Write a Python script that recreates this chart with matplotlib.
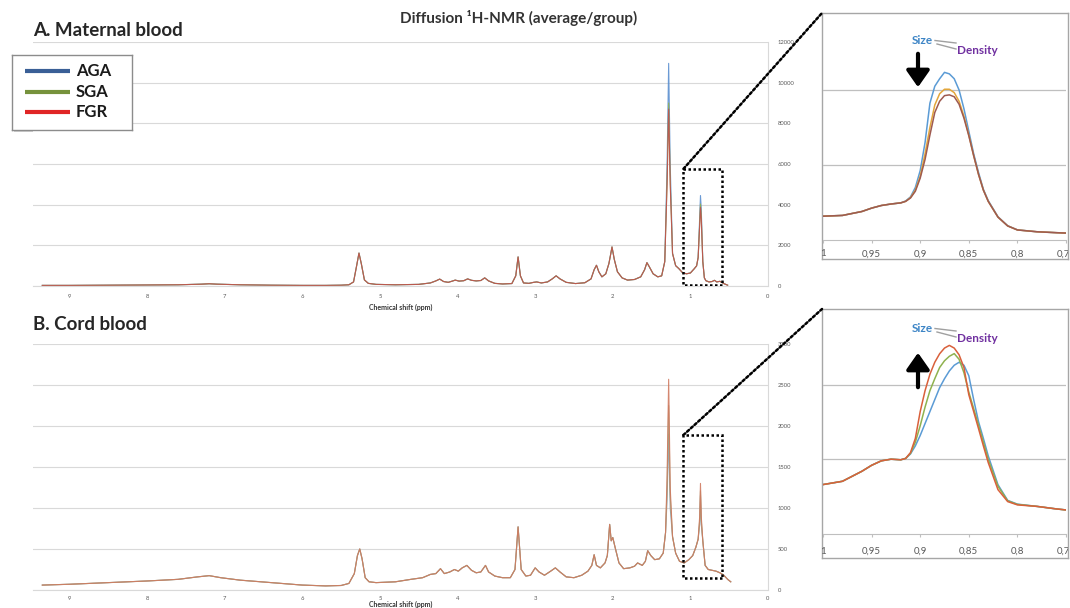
import numpy as np
import matplotlib
matplotlib.use('Agg')
import matplotlib.pyplot as plt
from matplotlib.patches import Rectangle, ConnectionPatch, FancyArrowPatch
from matplotlib.lines import Line2D
import matplotlib.transforms as mtransforms

plt.rcParams['font.family'] = ['Lato', 'DejaVu Sans']

# ---------------- data ----------------
groups = ['AGA', 'SGA', 'FGR']
legend_colors = ['#3a5f96', '#76923c', '#e02525']

x_ticks = [0, 1, 2, 3, 4, 5, 6, 7, 8, 9]
zoom_ticks = [1.0, 0.95, 0.9, 0.85, 0.8, 0.75]
zoom_tick_labels = ['1', '0,95', '0,9', '0,85', '0,8', '0,75']

# Maternal blood full spectrum (common trace, FGR level at the peaks)
maternal_ppm = [9.35, 9.0, 8.5, 8.0, 7.6, 7.3, 7.2, 7.1, 6.8, 6.4, 6.0, 5.7, 5.5, 5.4,
                5.34, 5.30, 5.27, 5.24, 5.20, 5.15, 5.05, 4.8, 4.5, 4.35, 4.28, 4.23,
                4.18, 4.12, 4.06, 4.03, 3.98, 3.92, 3.87, 3.82, 3.76, 3.70, 3.65, 3.60,
                3.52, 3.42, 3.30, 3.25, 3.22, 3.19, 3.15, 3.08, 3.02, 2.98, 2.92, 2.84,
                2.78, 2.73, 2.68, 2.60, 2.48, 2.36, 2.28, 2.24, 2.21, 2.18, 2.14, 2.09,
                2.05, 2.03, 2.01, 1.98, 1.94, 1.88, 1.81, 1.72, 1.64, 1.59, 1.56, 1.53,
                1.48, 1.42, 1.37, 1.33, 1.30, 1.28, 1.26, 1.23, 1.19, 1.15, 1.10, 1.05,
                1.00, 0.95, 0.92, 0.90, 0.88, 0.87, 0.86, 0.84, 0.82, 0.80, 0.76, 0.72,
                0.69, 0.66, 0.62, 0.57, 0.52]
maternal_common = [30, 30, 40, 50, 60, 90, 110, 90, 60, 40, 30, 30, 40, 60,
                   200, 1000, 1620, 1100, 300, 130, 80, 60, 80, 150, 250, 340,
                   220, 180, 250, 290, 240, 260, 350, 280, 250, 270, 400, 250,
                   130, 100, 120, 500, 1430, 500, 150, 130, 180, 200, 150, 200,
                   350, 500, 350, 180, 120, 160, 350, 800, 1020, 700, 450, 600,
                   1100, 1500, 1920, 1300, 700, 400, 290, 320, 450, 800, 1150, 950,
                   600, 450, 500, 1200, 5000, 8700, 5000, 1600, 1000, 860, 650, 600,
                   640, 850, 990, 1400, 3000, 3870, 3300, 1200, 400, 260, 200, 220,
                   280, 200, 230, 120, 40]
maternal_peak_ppm = [1.30, 1.28, 1.26, 0.88, 0.87, 0.86]
maternal_peak_aga = [6000, 10950, 6000, 3400, 4450, 3800]
maternal_peak_sga = [5200, 9000, 5200, 3100, 4030, 3450]
maternal_peak_fgr = [5000, 8700, 5000, 3000, 3870, 3300]

# Cord blood full spectrum
cord_ppm = [9.35, 9.0, 8.5, 8.0, 7.6, 7.35, 7.2, 7.05, 6.8, 6.4, 6.0, 5.7, 5.5, 5.4,
            5.33, 5.29, 5.26, 5.23, 5.19, 5.14, 5.05, 4.8, 4.6, 4.45, 4.35, 4.28,
            4.22, 4.17, 4.10, 4.04, 3.99, 3.94, 3.88, 3.82, 3.76, 3.70, 3.64, 3.60,
            3.52, 3.42, 3.32, 3.26, 3.22, 3.18, 3.12, 3.06, 3.00, 2.95, 2.88, 2.80,
            2.74, 2.68, 2.60, 2.50, 2.40, 2.32, 2.27, 2.24, 2.21, 2.16, 2.10, 2.07,
            2.04, 2.02, 2.00, 1.97, 1.92, 1.86, 1.78, 1.72, 1.68, 1.62, 1.58, 1.55,
            1.51, 1.46, 1.40, 1.35, 1.32, 1.30, 1.28, 1.26, 1.23, 1.19, 1.14, 1.08,
            1.02, 0.97, 0.93, 0.90, 0.88, 0.87, 0.86, 0.84, 0.81, 0.77, 0.72, 0.67,
            0.62, 0.57, 0.52, 0.48]
cord_common = [60, 70, 90, 110, 130, 160, 175, 150, 120, 90, 60, 50, 55, 80,
               200, 420, 500, 380, 150, 100, 90, 100, 130, 150, 190, 200,
               260, 200, 220, 250, 230, 270, 300, 240, 210, 220, 300, 220,
               170, 150, 150, 250, 770, 250, 170, 180, 270, 220, 180, 230,
               270, 220, 160, 150, 180, 230, 300, 430, 300, 270, 330, 420,
               800, 600, 640, 520, 330, 260, 270, 290, 330, 300, 350, 480,
               420, 370, 380, 450, 700, 1400, 2570, 1250, 650, 450, 350, 330,
               370, 420, 520, 620, 900, 1300, 900, 600, 300, 250, 240, 230,
               210, 180, 130, 100]
cord_peak_ppm = [1.30, 1.28, 1.26, 0.88, 0.87, 0.86]
cord_peak_aga = [1100, 1900, 1000, 800, 1150, 800]
cord_peak_sga = [1250, 2250, 1150, 850, 1210, 850]
cord_peak_fgr = [1400, 2570, 1250, 900, 1300, 900]

# Zoomed region 1.0 - 0.75 ppm
zoom_ppm = [1.00, 0.98, 0.96, 0.95, 0.94, 0.93, 0.92, 0.915, 0.91, 0.905, 0.90, 0.895,
            0.89, 0.885, 0.88, 0.875, 0.87, 0.865, 0.86, 0.855, 0.85, 0.845, 0.84,
            0.835, 0.83, 0.82, 0.81, 0.80, 0.78, 0.76, 0.75]
maternal_zoom_aga = [635, 655, 760, 850, 920, 960, 990, 1040, 1150, 1400, 1850, 2600,
                     3650, 4100, 4300, 4470, 4430, 4300, 4000, 3500, 2900, 2300, 1800,
                     1350, 1050, 620, 380, 270, 220, 195, 185]
maternal_zoom_sga = [635, 655, 760, 850, 920, 960, 990, 1030, 1130, 1330, 1700, 2300,
                     3000, 3600, 3900, 4020, 4020, 3930, 3700, 3300, 2800, 2250, 1750,
                     1330, 1030, 610, 375, 268, 220, 195, 185]
maternal_zoom_fgr = [635, 655, 760, 850, 920, 960, 990, 1030, 1120, 1300, 1650, 2150,
                     2800, 3400, 3700, 3850, 3870, 3820, 3620, 3250, 2780, 2250, 1750,
                     1330, 1030, 610, 375, 268, 220, 195, 185]
cord_zoom_aga = [331, 353, 420, 460, 490, 501, 497, 506, 536, 590, 660, 740,
                 820, 900, 980, 1040, 1092, 1130, 1150, 1130, 1060, 900, 752,
                 640, 523, 330, 225, 200, 185, 168, 161]
cord_zoom_sga = [331, 353, 420, 460, 490, 501, 497, 506, 540, 615, 725, 850,
                 960, 1040, 1115, 1160, 1190, 1208, 1170, 1080, 950, 840, 730,
                 615, 500, 320, 222, 198, 185, 168, 161]
cord_zoom_fgr = [331, 353, 420, 460, 490, 501, 497, 506, 545, 640, 820, 960,
                 1070, 1150, 1207, 1245, 1263, 1245, 1200, 1115, 933, 820, 706,
                 590, 478, 297, 217, 195, 185, 168, 161]

# ---------------- layout helpers ----------------
W, H = 1070, 608


def box(l, t, r, b):
    return [l / W, 1 - b / H, (r - l) / W, (b - t) / H]


def fp(x, y):
    return (x / W, 1 - y / H)


def build(ppm, common, peak_ppm, peak_vals):
    d = dict(zip(peak_ppm, peak_vals))
    return [d.get(p, v) for p, v in zip(ppm, common)]


fig = plt.figure(figsize=(10.7, 6.08), dpi=100)
fig.patch.set_facecolor('white')

GRID = '#d9d9d9'


def main_panel(rect, ppm, series, colors, ymax, ystep, xpad, lpad):
    ax = fig.add_axes(box(*rect))
    for vals, c in zip(series, colors):
        ax.plot(ppm, vals, color=c, lw=0.8, alpha=0.9)
    ax.set_xlim(9.47, 0)
    ax.set_ylim(0, ymax)
    ax.set_xticks(x_ticks)
    ax.set_yticks(np.arange(0, ymax + 1, ystep))
    ax.yaxis.tick_right()
    ax.tick_params(axis='both', length=0, labelsize=4.2, labelcolor='#595959')
    ax.tick_params(axis='y', pad=7)
    ax.tick_params(axis='x', pad=xpad)
    ax.grid(axis='y', color=GRID, lw=0.8)
    ax.set_axisbelow(True)
    for s in ['top', 'left']:
        ax.spines[s].set_visible(False)
    for s in ['right', 'bottom']:
        ax.spines[s].set_color(GRID)
        ax.spines[s].set_linewidth(0.8)
    ax.set_xlabel('Chemical shift (ppm)', fontsize=5, fontweight='bold',
                  color='#333333', labelpad=lpad)
    return ax


def inset(frame_rect, plot_rect, series, colors, ymax, ystep, label_y):
    fr = fig.add_axes(box(*frame_rect))
    fr.set_xticks([])
    fr.set_yticks([])
    for s in fr.spines.values():
        s.set_color('#a6a6a6')
        s.set_linewidth(1.0)
    ax = fig.add_axes(box(*plot_rect))
    ax.patch.set_alpha(0)
    for vals, c in zip(series, colors):
        ax.plot(zoom_ppm, vals, color=c, lw=1.1)
    ax.set_xlim(1.0, 0.75)
    ax.set_ylim(0, ymax)
    ax.set_yticks([ystep, 2 * ystep])
    ax.set_yticklabels([])
    ax.tick_params(axis='y', length=0)
    ax.set_xticks(zoom_ticks)
    ax.set_xticklabels([])
    ax.tick_params(axis='x', length=2, color='#bfbfbf', direction='out')
    ax.grid(axis='y', color='#bfbfbf', lw=0.9)
    for s in ['top', 'left', 'right']:
        ax.spines[s].set_visible(False)
    ax.spines['bottom'].set_color('#bfbfbf')
    fl, ft, frr, fb = frame_rect
    yfrac = (fb - label_y) / (fb - ft)
    trans = mtransforms.blended_transform_factory(ax.transData, fr.transAxes)
    for v, s in zip(zoom_ticks, zoom_tick_labels):
        fr.text(v, yfrac, s, transform=trans, ha='center', va='center',
                fontsize=7, color='#595959', clip_on=True)
    return fr, ax


main_colors_A = ['#5b8fd0', '#8fb050', '#c0504d']
main_colors_B = ['#8f9fb0', '#a0a878', '#d07a60']

mat_series = [build(maternal_ppm, maternal_common, maternal_peak_ppm, maternal_peak_aga),
              build(maternal_ppm, maternal_common, maternal_peak_ppm, maternal_peak_sga),
              build(maternal_ppm, maternal_common, maternal_peak_ppm, maternal_peak_fgr)]
cord_series = [build(cord_ppm, cord_common, cord_peak_ppm, cord_peak_aga),
               build(cord_ppm, cord_common, cord_peak_ppm, cord_peak_sga),
               build(cord_ppm, cord_common, cord_peak_ppm, cord_peak_fgr)]

axA = main_panel((33, 42, 768, 286), maternal_ppm, mat_series, main_colors_A,
                 12000, 2000, 6, 3)
axB = main_panel((33, 344, 768, 590), cord_ppm, cord_series, main_colors_B,
                 3000, 500, 4, 0.5)

frA, inA = inset((822, 13, 1068, 259), (823, 15, 1066, 240),
                 [maternal_zoom_aga, maternal_zoom_sga, maternal_zoom_fgr],
                 ['#5b9bd5', '#e3a63b', '#9e5a50'], 6000, 2000, 254)
frB, inB = inset((822, 309, 1068, 558), (823, 310, 1066, 534),
                 [cord_zoom_aga, cord_zoom_sga, cord_zoom_fgr],
                 ['#5b9bd5', '#8fb24f', '#d9603b'], 1500, 500, 551)

# dotted zoom boxes and connectors
for ax, fr, (x0, x1, y0, y1) in [(axA, frA, (1.09, 0.59, 50, 5760)),
                                 (axB, frB, (1.09, 0.59, 146, 1890))]:
    ax.add_patch(Rectangle((x1, y0), x0 - x1, y1 - y0, fill=False, ec='black',
                           lw=1.8, ls=(0, (1, 1)), zorder=5))
    con = ConnectionPatch(xyA=(x0, y1), coordsA=ax.transData, xyB=(0, 1),
                          coordsB=fr.transAxes, color='black', lw=1.8,
                          ls=(0, (1, 1)), zorder=6)
    fig.add_artist(con)

# titles
fig.text(*fp(519, 18), 'Diffusion \u00b9H-NMR (average/group)', ha='center', va='center',
         fontsize=11, color='#333333', fontweight='bold')
fig.text(*fp(33, 30), 'A. Maternal blood', ha='left', va='center', fontsize=13.5,
         fontweight='bold', color='#262626')
fig.text(*fp(33, 325), 'B. Cord blood', ha='left', va='center', fontsize=13.5,
         fontweight='bold', color='#262626')

# legend (drawn as a small framed panel)
legax = fig.add_axes(box(12, 55, 132, 130))
legax.set_xlim(0, 120)
legax.set_ylim(75, 0)
legax.set_xticks([])
legax.set_yticks([])
for s in legax.spines.values():
    s.set_color('#8c8c8c')
    s.set_linewidth(1.0)
shadow = fig.add_axes(box(14, 57, 134, 132))
shadow.set_xticks([])
shadow.set_yticks([])
shadow.patch.set_facecolor('#d0d0d0')
for s in shadow.spines.values():
    s.set_visible(False)
shadow.set_zorder(legax.get_zorder() - 1)
for i, (g, c) in enumerate(zip(groups, legend_colors)):
    yy = 16 + i * 20.7
    legax.plot([13, 58], [yy, yy], color=c, lw=3, solid_capstyle='butt')
    legax.text(64, yy, g, ha='left', va='center', fontsize=12, fontweight='bold',
               color='#1a1a1a')

# Size / Density annotations and arrows
for ytxt, (ya, yb) in [(40, (51, 90)), (328, (390, 350))]:
    fig.text(*fp(912, ytxt), 'Size', ha='left', va='center', fontsize=8.5,
             fontweight='bold', color='#3d85c6')
    fig.text(*fp(957, ytxt + 10), 'Density', ha='left', va='center', fontsize=8.5,
             fontweight='bold', color='#7030a0')
    fig.add_artist(Line2D([935 / W, 956 / W], [1 - (ytxt + 0.5) / H, 1 - (ytxt + 3) / H],
                          color='#a0a0a0', lw=1.0))
    fig.add_artist(Line2D([937 / W, 956 / W], [1 - (ytxt + 4) / H, 1 - (ytxt + 9) / H],
                          color='#a0a0a0', lw=1.0))
    fig.add_artist(FancyArrowPatch(
        fp(918, ya), fp(918, yb), transform=fig.transFigure,
        arrowstyle='-|>,head_width=0.35,head_length=0.5', mutation_scale=20,
        lw=3, color='black'))

fig.savefig('out.png', dpi=100)
